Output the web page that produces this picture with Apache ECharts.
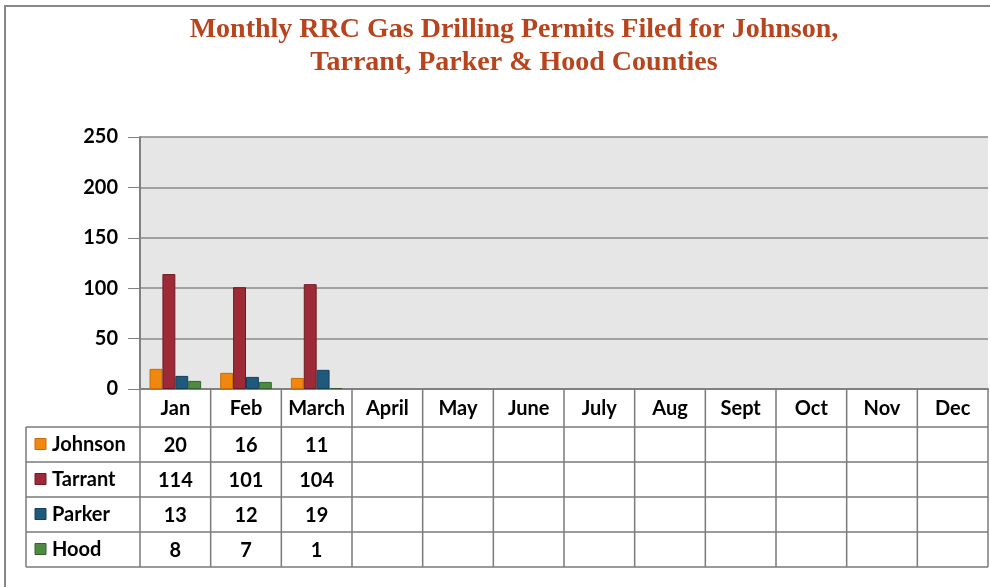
<!DOCTYPE html>
<html>
<head>
<meta charset="utf-8">
<script src="https://cdn.jsdelivr.net/npm/echarts@6/dist/echarts.min.js"></script>
<style>
  html, body { margin: 0; padding: 0; background: #fff; }
  #main { width: 990px; height: 587px; }
</style>
</head>
<body>
<div id="main"></div>
<script>
const months = ['Jan', 'Feb', 'March', 'April', 'May', 'June', 'July', 'Aug', 'Sept', 'Oct', 'Nov', 'Dec'];
const countyNames = ['Johnson', 'Tarrant', 'Parker', 'Hood'];
const johnson = [20, 16, 11];
const tarrant = [114, 101, 104];
const parker = [13, 12, 19];
const hood = [8, 7, 1];
const yTicks = [0, 50, 100, 150, 200, 250];

const colors = ['#f0870f', '#9e2a38', '#1f5a7c', '#4f8a43'];
const borders = ['#c86a06', '#6e1a24', '#153f58', '#356030'];
const values = [johnson, tarrant, parker, hood];

const font = 'Lato, "Open Sans", sans-serif';
const fs = 20;
const chart = echarts.init(document.getElementById('main'));

const option = {
  animation: false,
  title: {
    text: 'Monthly RRC Gas Drilling Permits Filed for Johnson,\nTarrant, Parker & Hood Counties',
    left: 509, top: 8, textAlign: 'center',
    textStyle: {
      fontFamily: '"Liberation Serif", serif', fontWeight: 'bold',
      fontSize: 28, lineHeight: 33, color: '#b8441d'
    }
  },
  grid: { left: 140, right: 2, top: 137, bottom: 198, show: true, backgroundColor: '#e6e6e6', borderWidth: 0 },
  xAxis: {
    type: 'category', data: months,
    axisLine: { lineStyle: { color: '#808080', width: 2 } },
    axisTick: { show: false },
    axisLabel: { interval: 0, margin: 10, fontFamily: font, fontWeight: 'bold', fontSize: fs, color: '#000' }
  },
  yAxis: {
    type: 'value', min: yTicks[0], max: yTicks[yTicks.length - 1], interval: yTicks[1] - yTicks[0],
    axisLine: { show: true, lineStyle: { color: '#808080', width: 2 } },
    axisTick: { show: true, length: 12, lineStyle: { color: '#808080' } },
    splitLine: { lineStyle: { color: '#8a8a8a', width: 1.5 } },
    axisLabel: { margin: 22, fontFamily: font, fontWeight: 'bold', fontSize: fs, color: '#000' }
  },
  series: countyNames.map((name, i) => ({
    name, type: 'bar', data: values[i],
    barGap: '0%', barCategoryGap: '27%',
    itemStyle: { color: colors[i], borderColor: borders[i], borderWidth: 1 }
  }))
};
chart.setOption(option);

// data table under the plot, laid out from the category axis
function buildTable() {
  const n = months.length;
  const x0 = chart.convertToPixel({ xAxisIndex: 0 }, months[0]);
  const x1 = chart.convertToPixel({ xAxisIndex: 0 }, months[1]);
  const cw = x1 - x0;
  const gridLeft = x0 - cw / 2;
  const gridRight = gridLeft + cw * n;
  const axisY = chart.convertToPixel({ yAxisIndex: 0 }, 0);
  const headerH = 38, rowH = 35, tableLeft = 26;
  const rowTop = axisY + headerH;
  const bottom = rowTop + rowH * countyNames.length;
  const lineStyle = { stroke: '#7a7a7a', lineWidth: 1.5 };
  const els = [];
  // outer frame
  els.push({ type: 'polyline', shape: { points: [[5, 587], [5, 6], [990, 6]] }, style: { stroke: '#888', lineWidth: 2, fill: null } });
  for (let r = 0; r <= countyNames.length; r++) {
    const y = rowTop + r * rowH;
    els.push({ type: 'line', shape: { x1: tableLeft, y1: y, x2: gridRight, y2: y }, style: lineStyle });
  }
  els.push({ type: 'line', shape: { x1: tableLeft, y1: rowTop, x2: tableLeft, y2: bottom }, style: lineStyle });
  for (let c = 0; c <= n; c++) {
    const x = gridLeft + c * cw;
    els.push({ type: 'line', shape: { x1: x, y1: axisY, x2: x, y2: bottom }, style: lineStyle });
  }
  countyNames.forEach((name, r) => {
    const cy = rowTop + r * rowH + rowH / 2;
    els.push({ type: 'rect', shape: { x: 35, y: cy - 6, width: 11, height: 11 }, style: { fill: colors[r], stroke: borders[r], lineWidth: 1 } });
    els.push({ type: 'text', x: 52, y: cy, style: { text: name, fontFamily: font, fontWeight: 'bold', fontSize: fs, fill: '#000', verticalAlign: 'middle' } });
    values[r].forEach((v, c) => {
      els.push({ type: 'text', x: gridLeft + c * cw + cw / 2, y: cy + 1, style: { text: String(v), fontFamily: font, fontWeight: 'bold', fontSize: fs, fill: '#000', align: 'center', verticalAlign: 'middle' } });
    });
  });
  chart.setOption({ graphic: { elements: els } });
}
buildTable();
</script>
</body>
</html>
